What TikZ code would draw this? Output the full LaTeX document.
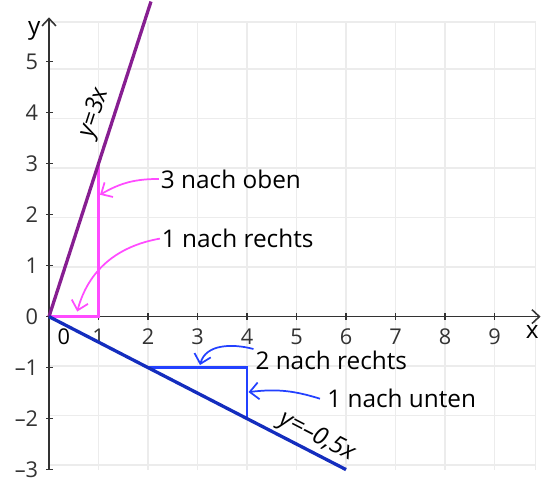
\documentclass[tikz,border=0pt]{standalone}
\usepackage{fontspec}
\setmainfont{Open Sans}
\usepackage{tikz}
\usetikzlibrary{arrows.meta, positioning, calc}
\definecolor{lila}{RGB}{135,30,145}
\definecolor{rosa}{RGB}{255,75,255}
\definecolor{dunkelblau}{RGB}{20,45,190}
\definecolor{hellblau}{RGB}{35,65,255}

\begin{document}
\begin{tikzpicture}[x=1cm, y=1.03cm,
    pfeil/.style={-{Straight Barb[length=1.8mm, width=3.4mm]}, line width=1pt},
    schrift/.style={font=\fontsize{14}{16}\selectfont, inner sep=1pt},
    zahl/.style={font=\fontsize{12.5}{14}\selectfont, inner sep=1pt}]
    \useasboundingbox (-0.99,-3.24) rectangle (10.04,6.21);
    \draw[help lines, color=gray!15, line width=0.8pt] (0,-3) grid (9.83,5.78);
    \draw[color=gray!15, line width=0.8pt] (0,5.78) -- (9.83,5.78) -- (9.83,-3);
    \draw[line width=0.9pt, black!80, -{Straight Barb[length=1.5mm, width=2.8mm]}] (0,0) -- (9.93,0);
    \draw[line width=0.9pt, black!80, -{Straight Barb[length=1.5mm, width=2.8mm]}] (0,-3) -- (0,5.87);
    \node[schrift] (xachse) at (9.76,-0.3) {x};
    \node[schrift] (yachse) at (-0.3,5.6) {y};

    \foreach \x in {1,...,9}
        \draw[line width=0.9pt, black!80] (\x,0.065) -- (\x,-0.065) node[zahl] at (\x,-0.4) {\x};
    \node[zahl] (null) at (0.3,-0.4) {0};
    \foreach \y/\t in {-3/\textendash3, -2/\textendash2, -1/\textendash1, 0/0, 1/1, 2/2, 3/3, 4/4, 5/5}
        \draw[line width=0.9pt, black!80] (-0.06,\y) -- (0.08,\y) node[zahl, anchor=east] at (-0.17,\y) {\t};

    \draw[rosa, line width=1.3pt] (0,0) -- (1,0) -- (1,3);
    \draw[hellblau, line width=1.3pt] (2,-1) -- (4,-1) -- (4,-2);
    \draw[lila, line width=1.9pt] (0,0) -- (2.06,6.18);
    \draw[dunkelblau, line width=1.9pt] (0,0) -- (6,-3);

    \node[schrift, rotate=72.1] (g1) at (0.93,3.99) {\itshape y=3x};
    \node[schrift, rotate=-27.3] (g2) at (5.41,-2.36) {\itshape y=\textendash0,5x};

    \node[schrift, anchor=west] (oben) at (2.22,2.70) {3 nach oben};
    \node[schrift, anchor=west] (rechtsa) at (2.24,1.53) {1 nach rechts};
    \node[schrift, anchor=west] (rechtsb) at (4.13,-0.86) {2 nach rechts};
    \node[schrift, anchor=west] (unten) at (5.58,-1.61) {1 nach unten};

    \coordinate (zoben) at (1.03,2.39);
    \coordinate (zrechtsa) at (0.57,0.1);
    \coordinate (zrechtsb) at (3.05,-0.95);
    \coordinate (zunten) at (4.03,-1.48);

    \draw[pfeil, rosa] (oben.west) to[bend right=15] (zoben);
    \draw[pfeil, rosa] (rechtsa.west) to[out=190, in=75] (zrechtsa);
    \draw[pfeil, hellblau] (rechtsb.north west) to[out=165, in=75] (zrechtsb);
    \draw[pfeil, hellblau] ([xshift=-3pt]unten.west) to[bend right=12] (zunten);
\end{tikzpicture}
\end{document}
